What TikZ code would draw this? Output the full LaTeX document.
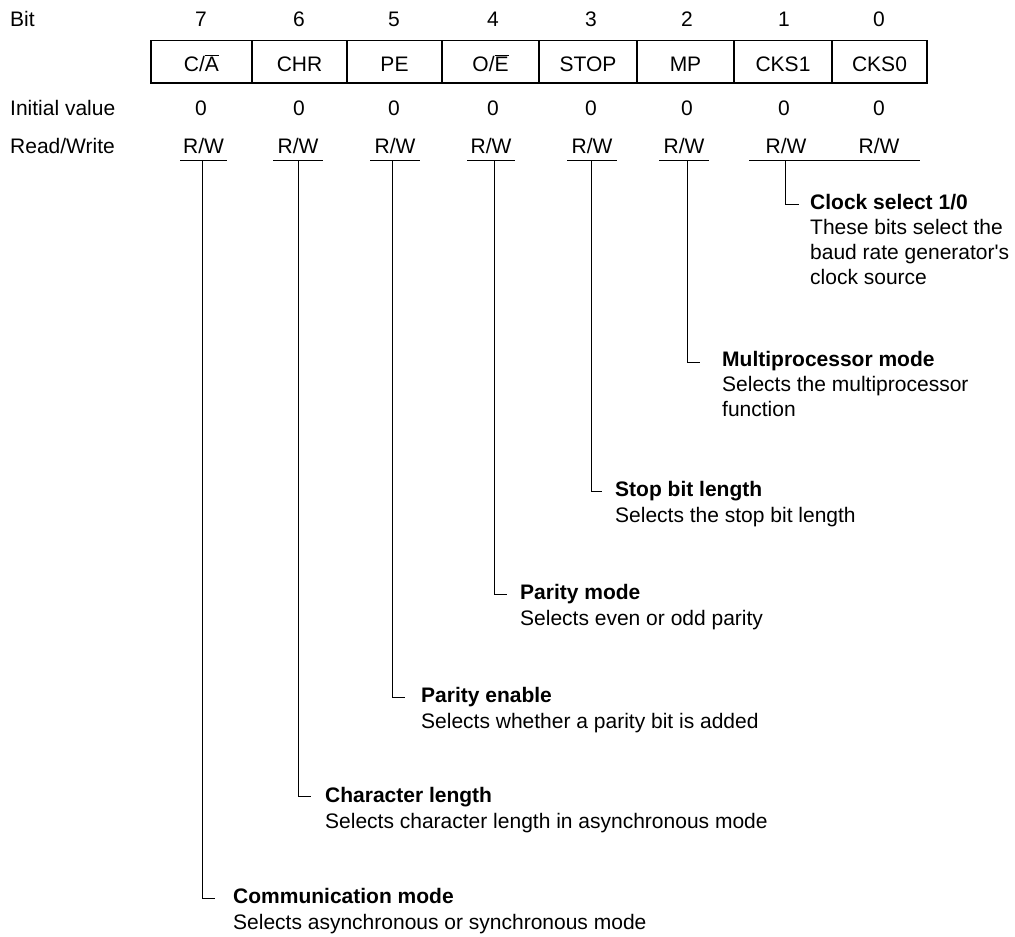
\documentclass[tikz,border=0pt]{standalone}
\usepackage{fontspec}
\setmainfont{Liberation Sans}
\newcommand{\fsz}{\fontsize{21}{25}\selectfont}
\newcommand{\mylines}[1]{\vtop{\baselineskip=25pt #1}}
\newcommand{\straightq}{{\XeTeXglyph\XeTeXcharglyph"0027\relax}}
\begin{document}
\begin{tikzpicture}[x=1pt,y=-1pt,
  txt/.style={inner sep=0pt, font=\fsz},
  lbl/.style={txt, anchor=base west},
  num/.style={txt, anchor=base},
  cell/.style={draw, line width=1.3pt, inner sep=0pt, minimum height=42.5pt,
               text height=19.5pt, text depth=0pt, font=\fsz},
  head/.style={inner sep=0pt, anchor=base west, font=\fsz\bfseries},
  desc/.style={inner sep=0pt, anchor=base west, font=\fsz},
  conn/.style={line width=1pt},
]
\useasboundingbox (0,0) rectangle (1015,937);

% row labels
\node[lbl] (lbit) at (10,26.5) {Bit};
\node[lbl] (linit) at (10,115) {Initial value};
\node[lbl] (lrw) at (10,153) {Read/Write};

% bit numbers, initial values, R/W
\foreach \n/\x in {7/201,6/299,5/394,4/493,3/591,2/687,1/784,0/879}{
  \node[num] (b\n) at (\x,26.5) {\n};
  \node[num] (i\n) at (\x,115) {0};
}
\foreach \n/\x in {7/203.5,6/298,5/395,4/491,3/592,2/684,1/786,0/879}{
  \node[num] (rw\n) at (\x,153) {R/W};
}

% register cells
\foreach \n/\a/\b/\t in {7/151/252/{C/$\overline{\hbox{A}}$},6/252/347/{CHR},5/347/442/{PE},
    4/442/539/{O/$\overline{\hbox{E}}$},3/539/637/{STOP},2/637/734/{MP},1/734/832/{CKS1},0/832/927/{CKS0}}{
  \pgfmathsetmacro{\w}{\b-\a}
  \pgfmathsetmacro{\c}{(\a+\b)/2}
  \node[cell, minimum width=\w pt] (r\n) at (\c,61.75) {\t};
}

% underlines
\foreach \n/\a/\b in {7/180/227,6/273/323,5/370/420,4/467/515,3/567/617,2/659/709,1/749/920}{
  \coordinate (ua\n) at (\a,160);
  \coordinate (ub\n) at (\b,160);
  \draw[conn] (ua\n) -- (ub\n);
}

% descriptions
\node[head] (h1) at (810,209) {Clock select 1/0};
\node[desc] (d1) at (810,234) {\mylines{\hbox{These bits select the}\hbox{baud rate generator\straightq s}\hbox{clock source}}};
\node[head] (h2) at (722,366) {Multiprocessor mode};
\node[desc] (d2) at (722,391) {\mylines{\hbox{Selects the multiprocessor}\hbox{function}}};
\node[head] (h3) at (615,496) {Stop bit length};
\node[desc] (d3) at (615,522) {Selects the stop bit length};
\node[head] (h4) at (520,599) {Parity mode};
\node[desc] (d4) at (520,625) {Selects even or odd parity};
\node[head] (h5) at (421,702) {Parity enable};
\node[desc] (d5) at (421,728) {Selects whether a parity bit is added};
\node[head] (h6) at (325,802) {Character length};
\node[desc] (d6) at (325,828) {Selects character length in asynchronous mode};
\node[head] (h7) at (233,903) {Communication mode};
\node[desc] (d7) at (233,929) {Selects asynchronous or synchronous mode};

% connectors
\foreach \n/\x/\y/\s in {7/202/898/215,6/298/796/311,5/392/697/405,4/494/594/507,
    3/591/491/602,2/687/362/700,1/785/204/799}{
  \coordinate (v\n) at (\x,160);
  \coordinate (s\n) at (\s,\y);
  \draw[conn] (v\n) |- (s\n);
}
\end{tikzpicture}
\end{document}
